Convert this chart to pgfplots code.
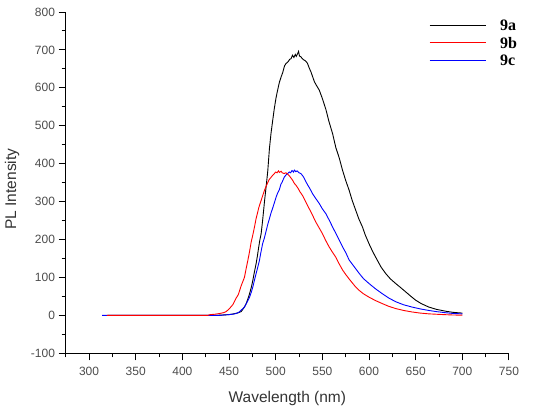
\documentclass[border=0pt]{standalone}
\usepackage{pgfplots}
\pgfplotsset{compat=1.18}
\usepackage{fontspec}
\setmainfont{Liberation Sans}
\newfontfamily\legfont{Liberation Serif}
\begin{document}
\begin{tikzpicture}
\begin{axis}[
  at={(0pt,0pt)}, anchor=south west,
  scale only axis, width=443.3pt, height=341.3pt,
  xmin=275, xmax=750, ymin=-100, ymax=800,
  axis x line*=bottom, axis y line*=left,
  xtick={300,350,...,750}, minor xtick={275,325,...,725},
  ytick={-100,0,...,800}, minor ytick={-50,50,...,750},
  tick align=outside,
  major tick length=7pt, minor tick length=4pt,
  every tick/.style={black, line width=1pt},
  axis line style={black, line width=1.3pt},
  scaled ticks=false,
  /pgf/number format/assume math mode=true,
  xticklabel style={font=\fontsize{12}{14}\selectfont, text=black!70, anchor=north, inner sep=0pt, yshift=-7pt},
  yticklabel style={font=\fontsize{12}{14}\selectfont, text=black!70, anchor=east, inner sep=0pt, xshift=-3.5pt},
  xlabel={Wavelength (nm)},
  ylabel={PL Intensity},
  xlabel style={font=\fontsize{15.5}{18}\selectfont, text=black!80, at={(axis description cs:0.5,-0.131)}, anchor=center},
  ylabel style={font=\fontsize{15.5}{18}\selectfont, text=black!80, at={(axis description cs:-0.121,0.481)}, anchor=center, rotate=0},
  legend style={at={(axis description cs:0.8195,0.981)}, anchor=north west, draw=none, fill=none,
    inner sep=0pt, row sep=4.5pt, column sep=13pt,
    font=\legfont\bfseries\fontsize{16}{19}\selectfont,
    nodes={inner sep=1pt, text height=11pt, text depth=0pt}},
  legend cell align=left,
  legend image code/.code={\draw[#1] (0pt,0pt) -- (56pt,0pt);},
  every axis plot/.append style={line width=0.9pt},
]
\addplot[black, forget plot] coordinates {
(320,0) (400,0) (430,0) (440,0.5) (450,2) (455,4) (460,7) (463,10) (466,20) (468.4,31)
(470,42) (472,57) (474,75) (475.5,92) (477,112) (479,136) (480.5,158) (481.8,180)
(483,198) (484.4,215) (486,250) (488,300) (490,345) (491.5,380) (493.3,440) (495,480)
(496.8,514) (498.5,545) (500.4,574) (502,593) (504,615) (506,630) (507.5,640) (509.5,658)
(511,664) (513,668) (515,675) (516.5,677) (518,686) (519.5,680) (521,688) (522,683)
(523.5,690) (524.5,696) (525.5,684) (527,682) (528.5,677) (530.5,673) (532,671) (534,665)
(536,652) (537.8,642) (539.5,630) (541.5,616) (544,605) (546.7,594) (550,572) (553.8,543)
(557,512) (561,479) (564.5,442) (568,416) (571.6,383) (575,356) (578.7,330) (582,303)
(585.8,277) (589,255) (593,233) (596,212) (600,189) (604,168) (609,145) (613,127)
(618,110) (623,96) (628.6,84) (634,73) (639.3,62) (645,50) (650,40) (656,31)
(664,22) (672,16) (682,11) (690,8) (700,6)
};
\addplot[blue, forget plot] coordinates {
(314,0) (400,0) (440,0) (445,1) (450,2) (455,3.5) (458,5) (461,9) (464,16) (466.6,22)
(469,33) (472,48) (474,62) (475.5,75) (477.2,92) (479,110) (480.8,127) (482.6,145)
(484.3,168) (486,189) (488,205) (490,225) (491.5,240) (493.3,255) (495,270) (496.8,283)
(498.6,297) (500.5,312) (502,322) (504,332) (505.5,345) (507,352) (509.3,365) (511,370)
(512.8,374) (514.6,378) (516,376) (517.5,382) (519,378) (520,383) (521.5,379) (523,381)
(525,376) (527,374) (529,368) (530.5,362) (532.5,352) (534.5,343) (536.5,335) (539.5,321)
(543,308) (546.7,295) (550,281) (553.8,268) (557.4,251) (561,233) (564.5,216) (568,199)
(571.6,181) (575.2,165) (578.7,146) (583,132) (589.4,111) (594,97) (600,84) (607,70)
(614.3,57) (621,46) (628.6,36) (637,28) (646,22) (655,17) (664,13) (672,10) (682,7)
(690,5) (700,4)
};
\addplot[red, forget plot] coordinates {
(319,0) (400,0) (427,0) (430,2) (435,3) (440,5) (444,7) (447,10) (450.5,18) (454,28)
(457.5,45) (460,55) (463,78) (466.5,100) (468.5,125) (470,143) (472,168) (473.7,193)
(475.5,212) (477.2,232) (479,255) (482,285) (484,300) (486,315) (488,330) (490,342)
(491.5,350) (493,358) (495,364) (497,370) (498.6,374) (500,378) (501.5,376) (503,381)
(504,377) (505.8,380) (507,376) (509,374) (511,376) (513,372) (514.6,368) (516.5,362)
(518.5,355) (520,348) (521.8,343) (524,335) (526,326) (528.8,316) (531,305) (533.5,293)
(536,281) (539.5,264) (543,246) (546.5,231) (550,216) (553.5,198) (557.4,180) (561,166)
(564.5,153) (568,136) (571.6,120) (575,108) (578.7,96) (582,86) (585,77) (589.4,66)
(594,57) (600,48) (607,39) (614.3,31) (621,24) (628.6,18) (637,13) (646,9) (655,6)
(664,4) (680,2) (690,1) (700,0.5)
};
\addlegendimage{black, line width=0.9pt}
\addlegendentry{9a}
\addlegendimage{red, line width=0.9pt}
\addlegendentry{9b}
\addlegendimage{blue, line width=0.9pt}
\addlegendentry{9c}
\end{axis}
\path[use as bounding box] (-65.7pt,-57.7pt) rectangle (484.3pt,353.3pt);
\end{tikzpicture}
\end{document}
